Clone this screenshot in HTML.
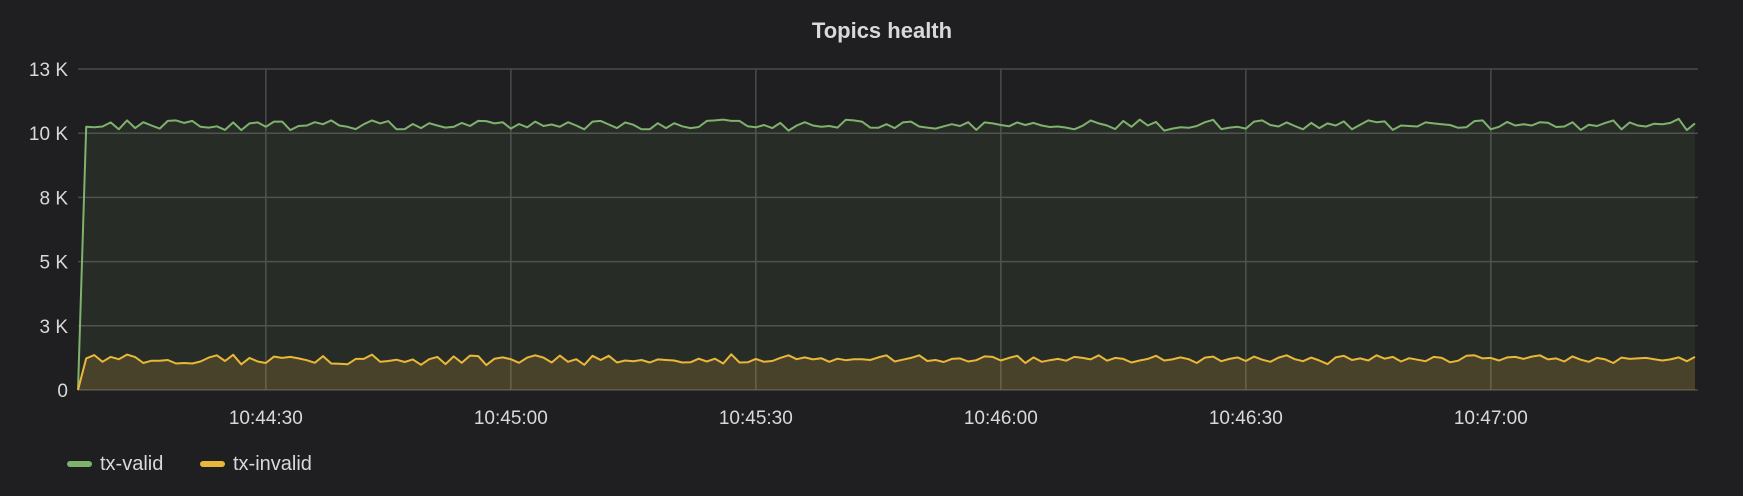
<!DOCTYPE html>
<html><head><meta charset="utf-8">
<style>
html,body{margin:0;padding:0;background:#1f1e20;}
body{width:1743px;height:491px;overflow:hidden;font-family:"Liberation Sans",sans-serif;}
svg text{font-family:"Liberation Sans",sans-serif;}
</style></head>
<body>
<svg id="chart" width="1743" height="491" xmlns="http://www.w3.org/2000/svg">
<rect width="1743" height="491" fill="#1f1e20"/>
<text x="882" y="38" text-anchor="middle" fill="#d8d9da" font-size="22" font-weight="bold">Topics health</text>
<g id="grid"></g>
<g id="series"></g>
<g id="axes"></g>
<g>
<rect x="67" y="461" width="25" height="6" rx="3" fill="#7eb26d"/>
<text x="100" y="470" fill="#d8d9da" font-size="20">tx-valid</text>
<rect x="200" y="461" width="25" height="6" rx="3" fill="#eab839"/>
<text x="233" y="470" fill="#d8d9da" font-size="20">tx-invalid</text>
</g>
</svg>
<script>
const startSec = 44*60+7;
const yTicks = [0,2500,5000,7500,10000,12500];
const yTickLabels = ["0","3 K","5 K","8 K","10 K","13 K"];
const xTicks = [44*60+30,45*60,45*60+30,46*60,46*60+30,47*60];
const xTickLabels = ["10:44:30","10:45:00","10:45:30","10:46:00","10:46:30","10:47:00"];
const txValid = [0,10250,10230,10260,10420,10150,10500,10200,10430,10300,10180,10480,10500,10400,10480,10250,10220,10270,10130,10420,10120,10380,10420,10250,10450,10450,10120,10280,10300,10430,10350,10500,10300,10250,10160,10350,10500,10380,10470,10150,10160,10360,10200,10390,10300,10220,10250,10400,10280,10480,10470,10380,10430,10180,10360,10230,10450,10280,10340,10250,10430,10300,10150,10450,10480,10340,10200,10420,10330,10150,10150,10390,10200,10390,10270,10200,10240,10480,10500,10530,10480,10480,10270,10230,10320,10200,10400,10100,10300,10430,10300,10250,10280,10220,10520,10500,10450,10220,10210,10350,10200,10420,10450,10260,10220,10180,10270,10350,10280,10430,10130,10420,10380,10320,10270,10420,10320,10400,10300,10240,10260,10220,10150,10290,10500,10380,10300,10160,10480,10250,10530,10300,10440,10100,10180,10230,10210,10280,10430,10520,10160,10220,10250,10180,10450,10500,10320,10260,10420,10280,10150,10400,10200,10380,10300,10460,10150,10330,10500,10430,10460,10130,10300,10280,10260,10420,10380,10350,10320,10210,10230,10470,10500,10150,10250,10440,10300,10350,10300,10430,10410,10240,10260,10430,10130,10330,10280,10400,10500,10150,10420,10300,10260,10370,10350,10400,10560,10120,10380];
const txInvalid = [0,1230,1360,1100,1290,1200,1380,1280,1050,1140,1140,1170,1030,1050,1030,1110,1260,1350,1130,1370,1000,1250,1110,1050,1300,1250,1290,1230,1160,1060,1320,1030,1020,1000,1210,1210,1380,1100,1130,1180,1090,1190,980,1200,1290,1010,1310,1060,1340,1320,970,1220,1270,1200,1060,1260,1350,1260,1070,1340,1100,1200,980,1330,1170,1330,1070,1150,1120,1170,1070,1190,1170,1150,1070,1080,1220,1110,1220,1030,1390,1070,1080,1210,1100,1130,1250,1350,1200,1270,1190,1240,1100,1220,1160,1200,1200,1170,1270,1350,1110,1180,1250,1350,1130,1170,1090,1210,1230,1110,1160,1310,1290,1150,1250,1330,1050,1270,1100,1160,1210,1140,1290,1250,1190,1350,1140,1250,1210,1070,1150,1210,1330,1150,1190,1270,1200,1050,1260,1300,1120,1210,1270,1130,1300,1180,1100,1260,1350,1200,1120,1260,1150,1010,1270,1330,1170,1230,1150,1350,1220,1290,1110,1240,1180,1120,1290,1250,1080,1140,1330,1350,1230,1250,1150,1270,1290,1210,1300,1350,1190,1230,1110,1310,1180,1100,1250,1190,1050,1260,1210,1230,1250,1200,1150,1190,1270,1120,1290,1300,1210,1270,1230,1150,1270,1220,1080,1200,1250];

const NS="http://www.w3.org/2000/svg";
const L=78,R=1695,GR=1698,T=69,B=390,yMax=12500;
const nPts = Math.min(txValid.length, txInvalid.length);
const endSec = startSec + nPts - 1;
function xS(s){return L+(s-startSec)/(endSec-startSec)*(R-L);}
function yS(v){return B-v/yMax*(B-T);}
function mk(tag,attrs,parent){const e=document.createElementNS(NS,tag);for(const k in attrs)e.setAttribute(k,attrs[k]);parent.appendChild(e);return e;}
const grid=document.getElementById('grid'),axes=document.getElementById('axes'),ser=document.getElementById('series');

yTicks.forEach((v,i)=>{
  const g=mk('line',{x1:L,x2:GR,y1:yS(v),y2:yS(v),stroke:'#4a4a4b','stroke-width':1.5},grid);
  
  
  const t=mk('text',{x:68,y:yS(v)+7,'text-anchor':'end',fill:'#d8d9da','font-size':19},axes);
  t.textContent=yTickLabels[i];
  
  
});
xTicks.forEach((s,i)=>{
  const g=mk('line',{x1:xS(s),x2:xS(s),y1:T,y2:B,stroke:'#4a4a4b','stroke-width':1.5},grid);
  
  
  const t=mk('text',{x:xS(s),y:424,'text-anchor':'middle',fill:'#d8d9da','font-size':19},axes);
  t.textContent=xTickLabels[i];
  
  
});
function draw(data,color,fill,name){
  const d=data.slice(0,nPts);
  let pts=d.map((v,i)=>xS(startSec+i).toFixed(1)+','+yS(v).toFixed(1));
  const a=mk('polygon',{points:xS(startSec)+','+B+' '+pts.join(' ')+' '+xS(endSec)+','+B,fill:fill},ser);
  
  
  const l=mk('polyline',{points:pts.join(' '),fill:'none',stroke:color,'stroke-width':2,'stroke-linejoin':'round'},ser);
  
  
}
draw(txValid,'#7eb26d','rgba(126,178,109,0.10)','tx-valid');
draw(txInvalid,'#eab839','rgba(234,184,57,0.16)','tx-invalid');
</script>
</body></html>
